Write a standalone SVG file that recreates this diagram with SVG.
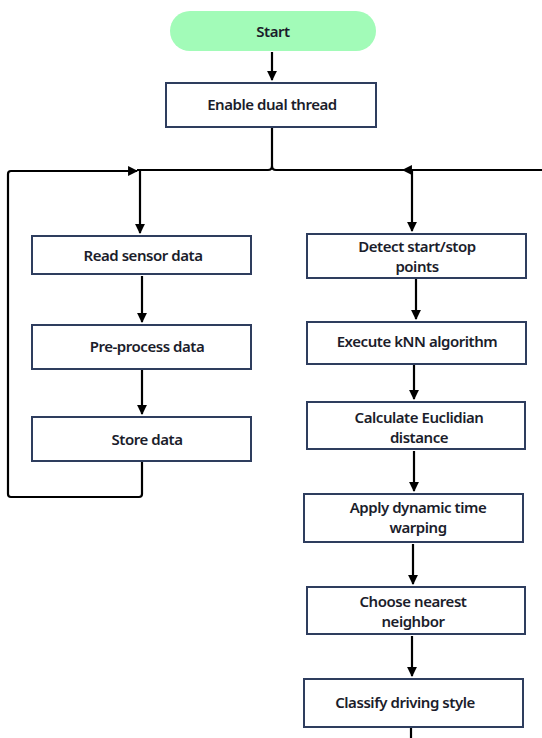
<svg xmlns="http://www.w3.org/2000/svg" width="542" height="738" viewBox="0 0 542 738">
<style>
.box{fill:#fff;stroke:#2e3d5e;stroke-width:2}
.t{font-family:"Noto Sans","Open Sans",sans-serif;font-weight:600;font-size:15px;fill:#1b1d2b;text-anchor:middle;letter-spacing:-0.45px}
.c{fill:none;stroke:#000;stroke-width:2.2}
</style>
<defs>
<marker id="ah" viewBox="0 0 10 10" refX="9" refY="5" markerWidth="4.5" markerHeight="4.5" orient="auto" markerUnits="strokeWidth">
<path d="M0,0 L10,5 L0,10 z" fill="#000"/>
</marker>
</defs>
<rect width="542" height="738" fill="#fff"/>
<g id="connectors">
<path class="c" d="M272,52 V80" marker-end="url(#ah)"/>
<path class="c" d="M272,128 V166 Q272,170 268,170 H137"/>
<path class="c" d="M276,170 H542"/>
<path class="c" d="M272,166 Q272,170 276,170"/>
<path class="c" d="M142,461 V494 Q142,497 139,497 H11 Q8,497 8,494 V174 Q8,171 11,171 H137" marker-end="url(#ah)"/>
<path class="c" d="M540,170 H403" marker-end="url(#ah)"/>
<path class="c" d="M140,171 V233" marker-end="url(#ah)"/>
<path class="c" d="M412,171 V231" marker-end="url(#ah)"/>
<path class="c" d="M142,276 V322" marker-end="url(#ah)"/>
<path class="c" d="M142,370 V414" marker-end="url(#ah)"/>
<path class="c" d="M416,279 V319" marker-end="url(#ah)"/>
<path class="c" d="M414,365 V399" marker-end="url(#ah)"/>
<path class="c" d="M414,451 V491" marker-end="url(#ah)"/>
<path class="c" d="M413,544 V584" marker-end="url(#ah)"/>
<path class="c" d="M412,636 V676" marker-end="url(#ah)"/>
<path class="c" d="M411,728 V738"/>
</g>
<g id="start">
<rect x="170" y="11" width="206" height="40" rx="20" fill="#a2fbb8"/>
<text class="t" x="273" y="37">Start</text>
</g>
<g id="enable">
<rect class="box" x="166" y="83" width="210" height="44"/>
<text class="t" x="272" y="110">Enable dual thread</text>
</g>
<g id="read">
<rect class="box" x="32" y="236" width="219" height="38"/>
<text class="t" x="143" y="261">Read sensor data</text>
</g>
<g id="preprocess">
<rect class="box" x="32" y="325" width="219" height="44"/>
<text class="t" x="147" y="352">Pre-process data</text>
</g>
<g id="store">
<rect class="box" x="32" y="417" width="219" height="44"/>
<text class="t" x="147" y="445">Store data</text>
</g>
<g id="detect">
<rect class="box" x="307" y="234" width="219" height="44"/>
<text class="t" x="417" y="252">Detect start/stop</text>
<text class="t" x="417" y="272">points</text>
</g>
<g id="knn">
<rect class="box" x="307" y="322" width="219" height="42"/>
<text class="t" x="417" y="347">Execute kNN algorithm</text>
</g>
<g id="euclid">
<rect class="box" x="307" y="402" width="218" height="47"/>
<text class="t" x="419" y="423">Calculate Euclidian</text>
<text class="t" x="419" y="443">distance</text>
</g>
<g id="dtw">
<rect class="box" x="304" y="494" width="219" height="48"/>
<text class="t" x="418" y="513">Apply dynamic time</text>
<text class="t" x="418" y="533">warping</text>
</g>
<g id="nearest">
<rect class="box" x="307" y="587" width="218" height="47"/>
<text class="t" x="413" y="607">Choose nearest</text>
<text class="t" x="413" y="627">neighbor</text>
</g>
<g id="classify">
<rect class="box" x="304" y="679" width="219" height="48"/>
<text class="t" x="405" y="708">Classify driving style</text>
</g>
</svg>
